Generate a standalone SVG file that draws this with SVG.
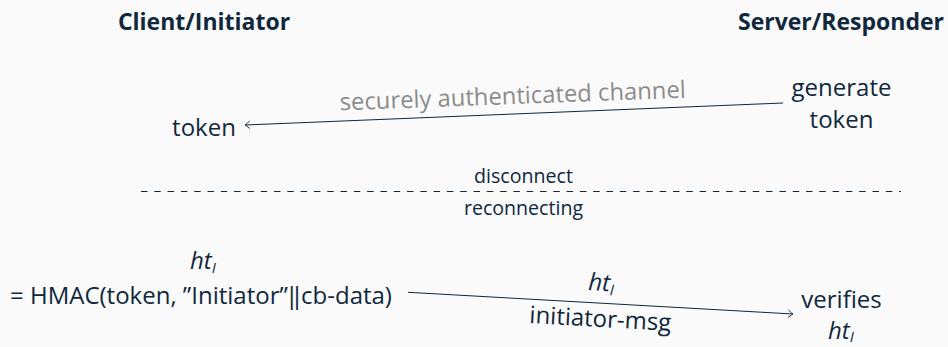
<svg xmlns="http://www.w3.org/2000/svg" width="948" height="347" viewBox="0 0 948 347">
<defs>
<marker id="arr" viewBox="-6 -5 8 10" markerWidth="8" markerHeight="10" refX="0" refY="0" orient="auto" markerUnits="userSpaceOnUse">
<path d="M -4.5 -3.5 Q -1.2 -0.6 0 0 Q -1.2 0.6 -4.5 3.5" fill="none" stroke="#10283d" stroke-width="0.9" stroke-linecap="round"/>
</marker>
</defs>
<style>
text{font-family:"Open Sans","Noto Sans",sans-serif;fill:#10283d}
.title{font-weight:bold;font-size:23px}
.body{font-size:24px}
.small{font-size:19.6px}
.grey{fill:#8c8c8c;font-size:23.8px}
.it{font-style:italic}
.sub{font-size:15px;font-style:italic}
.line{stroke:#10283d;stroke-width:1;fill:none}
</style>
<rect width="948" height="347" fill="#fafafa"/>
<g id="client-title"><text class="title" x="204" y="30" text-anchor="middle">Client/Initiator</text></g>
<g id="server-title"><text class="title" x="841" y="30" text-anchor="middle">Server/Responder</text></g>
<g id="generate-token">
<text class="body" x="841.5" y="96" text-anchor="middle">generate</text>
<text class="body" x="841.5" y="128" text-anchor="middle">token</text>
</g>
<g id="token-client"><text class="body" x="204" y="136" text-anchor="middle">token</text></g>
<g id="separator">
<text class="small" x="523.5" y="183" text-anchor="middle">disconnect</text>
<line class="line" x1="141" y1="191.5" x2="901" y2="191.5" stroke-dasharray="6.5 6.8" stroke-width="0.9"/>
<text class="small" x="523.5" y="215" text-anchor="middle">reconnecting</text>
</g>
<g id="hmac">
<text class="body it" x="190" y="269">ht<tspan class="sub" dy="4">I</tspan></text>
<text class="body" x="10" y="304">= HMAC(token, ”Initiator”‖cb-data)</text>
</g>
<g id="verifies">
<text class="body" x="841.5" y="308" text-anchor="middle">verifies</text>
<text class="body it" x="828" y="339">ht<tspan class="sub" dy="3">I</tspan></text>
</g>
<g id="connectors">
<line class="line" x1="783" y1="103" x2="245" y2="125" marker-end="url(#arr)"/>
<text class="grey" transform="translate(513,104) rotate(-2.1)" text-anchor="middle">securely authenticated channel</text>
<line class="line" x1="408" y1="292.3" x2="793" y2="314" marker-end="url(#arr)"/>
<text class="body it" transform="translate(588,290) rotate(3.2)">ht<tspan class="sub" dy="4">I</tspan></text>
<text class="body" transform="translate(600,327) rotate(3.2)" text-anchor="middle">initiator-msg</text>
</g>
</svg>
